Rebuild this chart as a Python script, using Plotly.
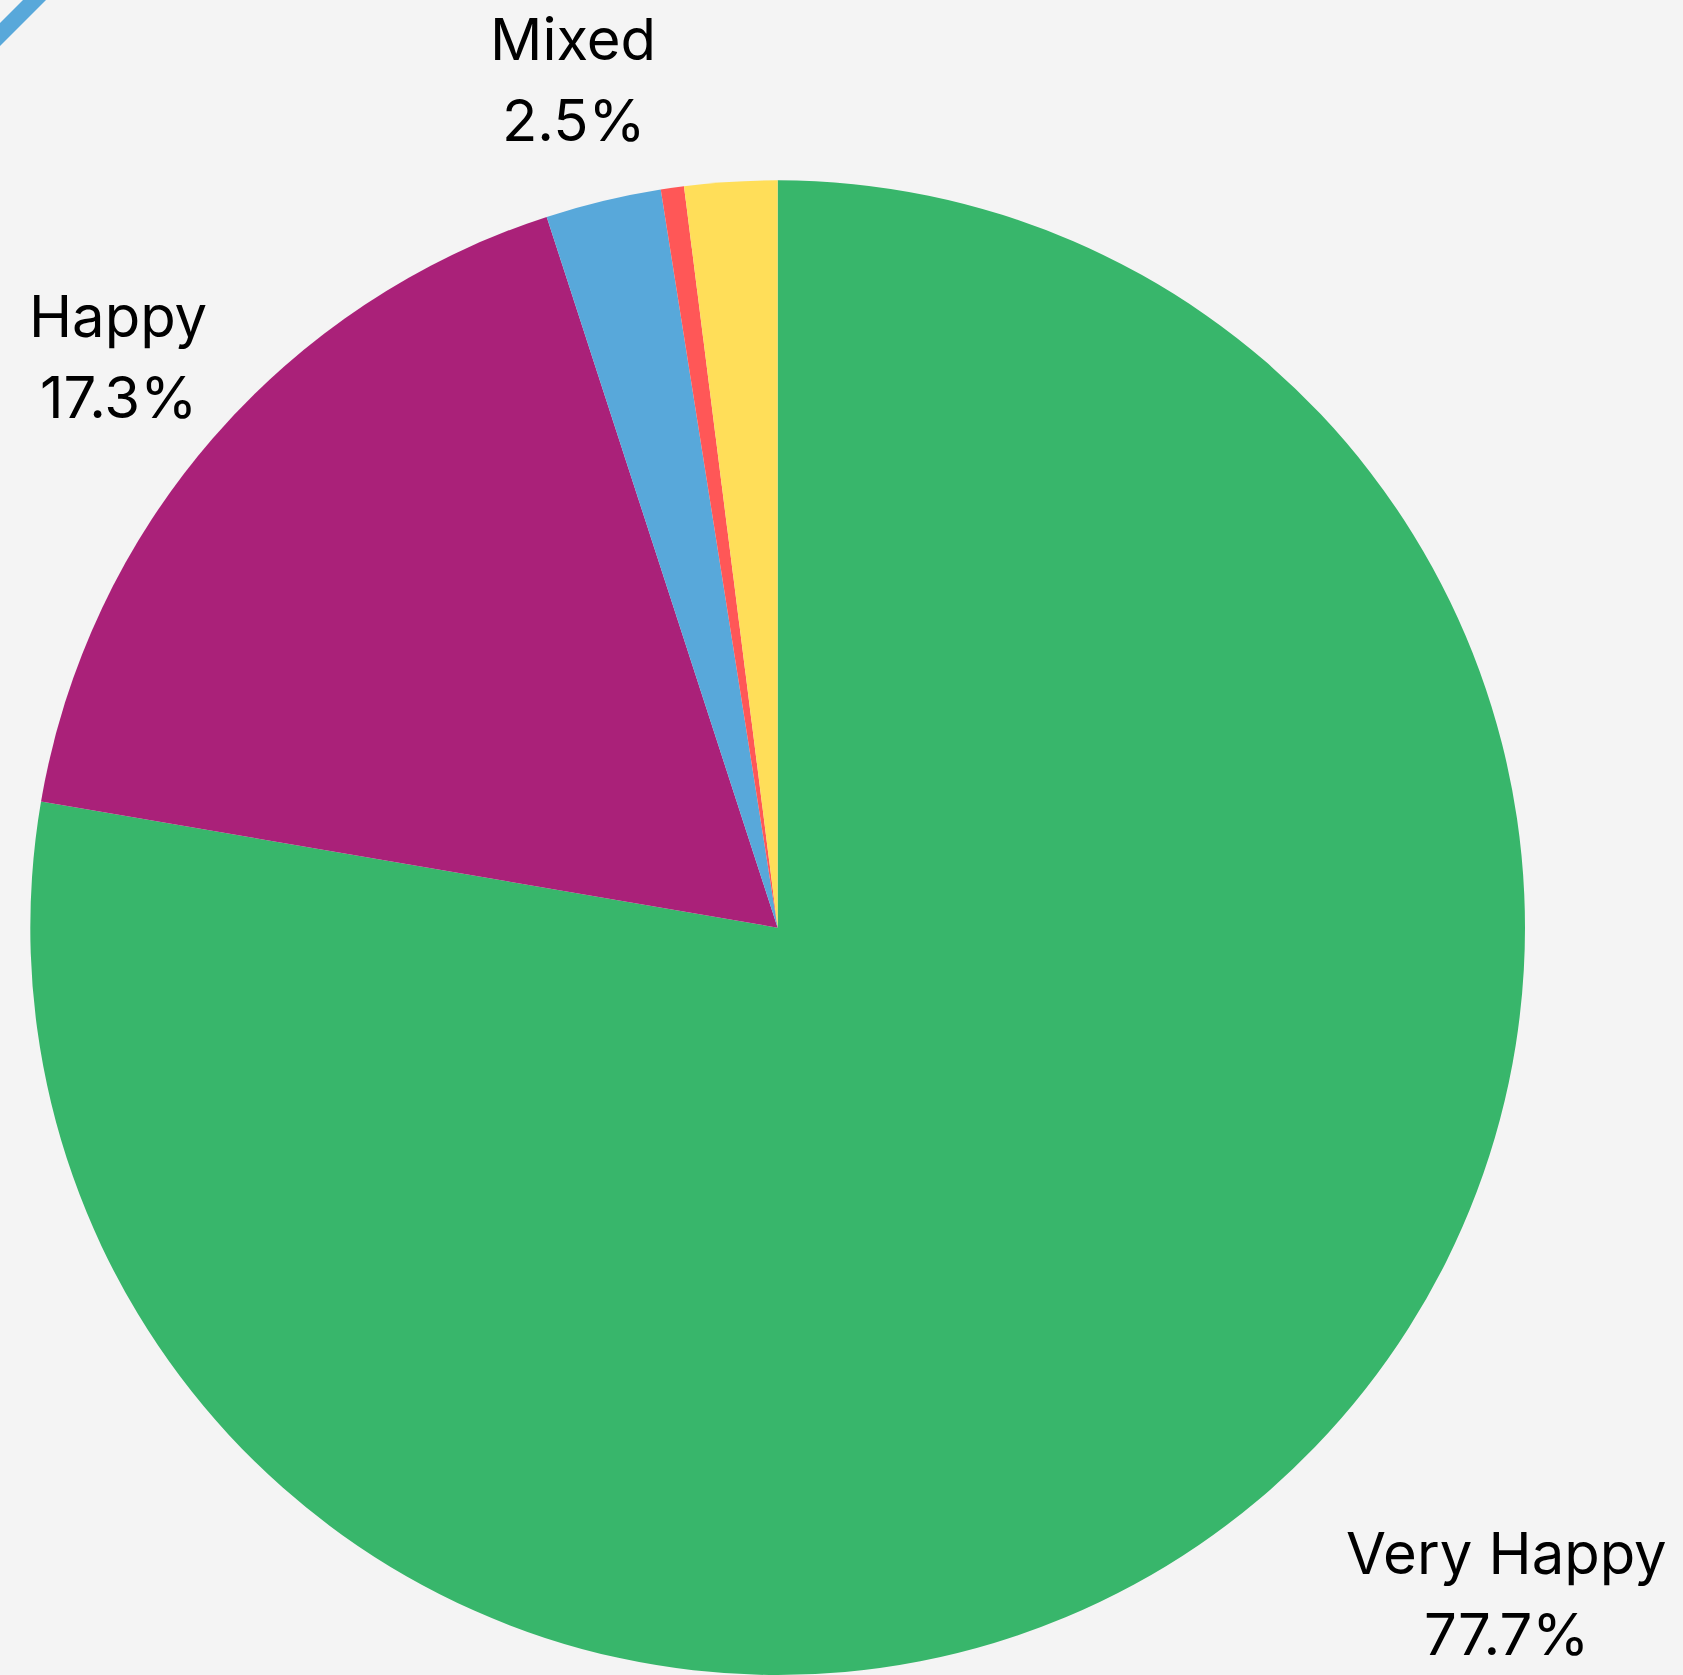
import plotly.graph_objects as go

# ---- data ----
categories = ["Very Happy", "Happy", "Mixed", "Unhappy", "Neutral"]
values = [77.7, 17.3, 2.5, 0.5, 2.0]
colors = ["#38B66B", "#AA2179", "#58A8DA", "#FF5757", "#FFDE59"]
labelled = ["Mixed", "Happy", "Very Happy"]

W, H = 1683, 1675

# label anchor positions in pixels (layout only): (x center, name cap-middle y, percent cap-middle y)
label_pos = {
    "Mixed": (573, 39, 120),
    "Happy": (118, 316, 397),
    "Very Happy": (1506, 1553, 1634),
}

fig = go.Figure(
    go.Pie(
        labels=categories,
        values=values,
        sort=False,
        direction="clockwise",
        rotation=0,
        marker=dict(colors=colors, line=dict(width=0)),
        textinfo="none",
        hoverinfo="label+percent",
        showlegend=False,
        domain=dict(x=[30.3 / W, 1525 / W], y=[0.0, 1 - 180.3 / H]),
    )
)

total = sum(values)
annotations = []
font = dict(family="Inter, Roboto, sans-serif", size=58, color="#000000")
for name in labelled:
    v = values[categories.index(name)]
    x, y1, y2 = label_pos[name]
    for txt, yy in ((name, y1), (f"{100 * v / total:.1f}%", y2)):
        annotations.append(
            dict(
                text=txt,
                x=x / W,
                y=1 - yy / H,
                xref="paper",
                yref="paper",
                xanchor="center",
                yanchor="middle",
                showarrow=False,
                font=font,
            )
        )

# decorative diagonal stripe in the top-left corner
def p(px, py):
    return f"{px / W:.5f},{1 - py / H:.5f}"

stripe = dict(
    type="path",
    xref="paper",
    yref="paper",
    path=f"M {p(23, 0)} L {p(46, 0)} L {p(0, 46)} L {p(0, 23)} Z",
    fillcolor="#58A8DA",
    line=dict(width=0),
    layer="above",
)

fig.update_layout(
    width=W,
    height=H,
    margin=dict(l=0, r=0, t=0, b=0),
    paper_bgcolor="#F4F4F4",
    plot_bgcolor="#F4F4F4",
    annotations=annotations,
    shapes=[stripe],
)

fig.write_html(
    "out.html",
    config={"displayModeBar": False},
    post_script="document.body.style.margin='0';document.body.style.background='#F4F4F4';",
)
